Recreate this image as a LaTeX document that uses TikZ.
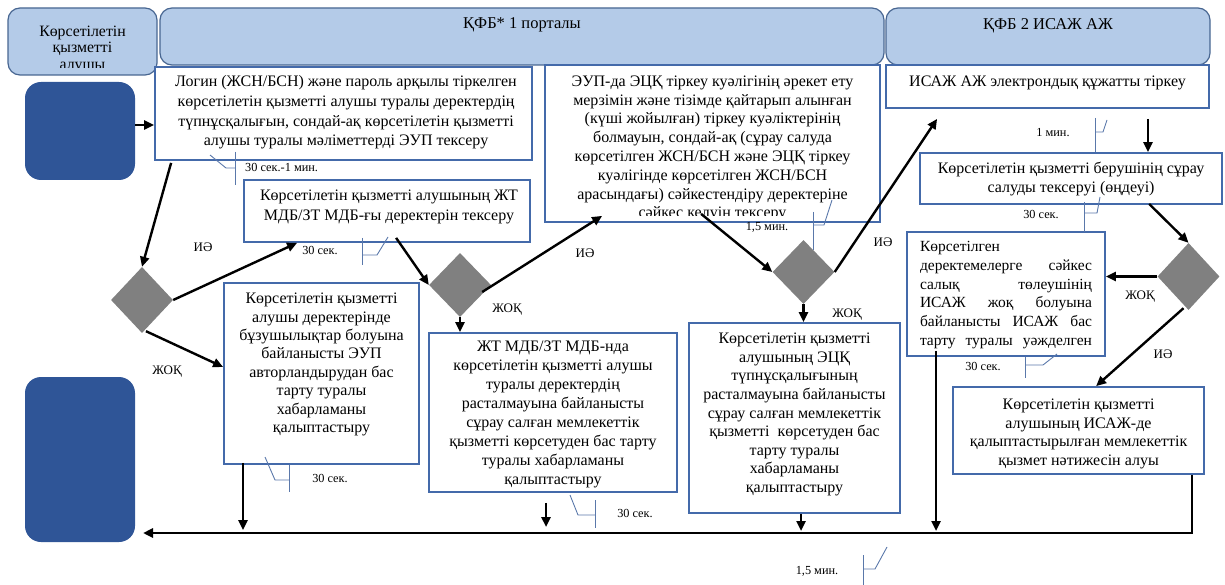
\documentclass[tikz,border=0pt]{standalone}
\usepackage{fontspec}
\setmainfont{Liberation Serif}
\usetikzlibrary{arrows.meta,shapes.geometric,calc}
\definecolor{boxc}{RGB}{68,106,170}
\definecolor{hdrfill}{RGB}{180,203,232}
\definecolor{hdrdraw}{RGB}{72,102,145}
\definecolor{sqfill}{RGB}{47,85,151}
\definecolor{dia}{RGB}{128,128,128}
\definecolor{clc}{RGB}{90,120,170}
\tikzset{
  hdr/.style={draw=hdrdraw,fill=hdrfill,rounded corners=12pt,line width=1.2pt,inner sep=0pt},
  sq/.style={fill=sqfill,rounded corners=16pt,inner sep=0pt},
  box/.style={draw=boxc,fill=white,line width=1.8pt,inner sep=0pt},
  txt/.style={align=center,inner sep=0pt,font=\fontsize{16}{19}\selectfont},
  dmd/.style={diamond,fill=dia,inner sep=0pt,minimum width=62pt},
  arr/.style={line width=2.4pt,-{Triangle[length=10pt,width=9pt]}},
  cl/.style={draw=clc,line width=0.9pt},
  cltxt/.style={inner sep=0pt,font=\fontsize{12.3}{14}\selectfont},
  lab/.style={inner sep=1pt,font=\fontsize{13}{15}\selectfont}
}
\begin{document}
\begin{tikzpicture}[x=1pt,y=1pt]
\useasboundingbox (0,0) rectangle (1225,-585);
% headers
\node[hdr,minimum width=149pt,minimum height=67pt] (hL) at (82.5,-41.5) {};
\node[hdr,minimum width=724pt,minimum height=57pt] (hM) at (522,-36.5) {};
\node[hdr,minimum width=324pt,minimum height=57pt] (hR) at (1048,-36.5) {};
\begin{scope}
\clip (8,-8) rectangle (157,-68);
\node[txt,font=\fontsize{15.8}{16.5}\selectfont] (thL) at (82.5,-49) {Көрсетілетін\\қызметті\\алушы};
\end{scope}
\node[txt,font=\fontsize{16.5}{19}\selectfont] (thM) at (522,-25) {ҚФБ* 1 порталы};
\node[txt,font=\fontsize{16.5}{19}\selectfont] (thR) at (1048,-26) {ҚФБ 2 ИСАЖ АЖ};
% dark squares
\node[sq,minimum width=110pt,minimum height=98pt] (sq1) at (80,-131) {};
\node[sq,minimum width=110pt,minimum height=165pt] (sq2) at (80,-459.5) {};
% boxes
\node[box,minimum width=377pt,minimum height=93pt] (login) at (343.5,-113.5) {};
\node[txt,font=\fontsize{16}{19.7}\selectfont] (tlogin) at (346,-112.5) {Логин (ЖСН/БСН) және пароль арқылы тіркелген\\көрсетілетін қызметті алушы туралы деректердің\\түпнұсқалығын, сондай-ақ көрсетілетін қызметті\\алушы туралы мәліметтерді ЭУП тексеру};
\node[box,minimum width=286pt,minimum height=62pt] (chk) at (387,-211) {};
\node[txt,font=\fontsize{16}{20}\selectfont] (tchk) at (389,-207) {Көрсетілетін қызметті алушының ЖТ\\МДБ/ЗТ МДБ-ғы деректерін тексеру};
\node[box,minimum width=335pt,minimum height=157pt] (eup) at (712.5,-143.5) {};
\begin{scope}
\clip (546,-66) rectangle (879,-216);
\node[txt,font=\fontsize{16}{18.8}\selectfont] (teup) at (712.5,-148.5) {ЭУП-да ЭЦҚ тіркеу куәлігінің әрекет ету\\мерзімін және тізімде қайтарып алынған\\(күші жойылған) тіркеу куәліктерінің\\болмауын, сондай-ақ (сұрау салуда\\көрсетілген ЖСН/БСН және ЭЦҚ тіркеу\\куәлігінде көрсетілген ЖСН/БСН\\арасындағы) сәйкестендіру деректеріне\\сәйкес келуін тексеру};
\end{scope}
\node[box,minimum width=323pt,minimum height=43pt] (isaj) at (1047.5,-86.5) {};
\node[txt] (tisaj) at (1047.5,-83) {ИСАЖ АЖ электрондық құжатты тіркеу};
\node[box,minimum width=302pt,minimum height=51pt] (prov) at (1071,-178.5) {};
\node[txt,font=\fontsize{16}{18.5}\selectfont] (tprov) at (1071,-179) {Көрсетілетін қызметті берушінің сұрау\\салуды тексеруі (өңдеуі)};
\node[box,minimum width=198pt,minimum height=124pt] (rsix) at (1006,-294) {};
\node[txt,align=left,font=\fontsize{15.5}{18.8}\selectfont] (tsix) at (1006,-295) {\hbox to 172pt{Көрсетілген\hfill}\\\hbox to 172pt{деректемелерге\hfill сәйкес}\\\hbox to 172pt{салық\hfill төлеушінің}\\\hbox to 172pt{ИСАЖ\hfill жоқ\hfill болуына}\\\hbox to 172pt{байланысты\hfill ИСАЖ\hfill бас}\\\hbox to 172pt{тарту\hfill туралы\hfill уәжделген}};
\node[box,minimum width=195pt,minimum height=181pt] (rsev) at (321.5,-373.5) {};
\node[txt,font=\fontsize{16}{18.4}\selectfont] (tsev) at (321.5,-364.5) {Көрсетілетін қызметті\\алушы деректерінде\\бұзушылықтар болуына\\байланысты ЭУП\\авторландырудан бас\\тарту туралы\\хабарламаны\\қалыптастыру};
\node[box,minimum width=248pt,minimum height=159pt] (reig) at (553,-412.5) {};
\node[txt,font=\fontsize{16}{19}\selectfont] (teig) at (553,-414.5) {ЖТ МДБ/ЗТ МДБ-нда\\көрсетілетін қызметті алушы\\туралы деректердің\\расталмауына байланысты\\сұрау салған мемлекеттік\\қызметті көрсетуден бас тарту\\туралы хабарламаны\\қалыптастыру};
\node[box,minimum width=211pt,minimum height=190pt] (rnin) at (794.5,-418) {};
\node[txt,font=\fontsize{16}{18.6}\selectfont] (tnin) at (794.5,-414.5) {Көрсетілетін қызметті\\алушының ЭЦҚ\\түпнұсқалығының\\расталмауына байланысты\\сұрау салған мемлекеттік\\қызметті\ \ көрсетуден бас\\тарту туралы\\хабарламаны\\қалыптастыру};
\node[box,minimum width=251pt,minimum height=87pt] (rten) at (1078.5,-430.5) {};
\node[txt,font=\fontsize{16}{18.7}\selectfont] (tten) at (1078.5,-434) {Көрсетілетін қызметті\\алушының ИСАЖ-де\\қалыптастырылған мемлекеттік\\қызмет нәтижесін алуы};
% diamonds
\node[dmd,minimum height=66pt] (d1) at (142,-300) {};
\node[dmd,minimum height=64pt] (d2) at (460,-285) {};
\node[dmd,minimum height=64pt] (d3) at (803.5,-272) {};
\node[dmd,minimum height=67pt] (d4) at (1188.5,-276.5) {};
% connectors
\draw[arr] (sq1.east |- 0,-125) -- (login.west |- 0,-125);
\draw[arr] ($(login.south west)+(17,-2)$) -- (d1.north);
\draw[arr] (d1.east) -- ($(chk.south west)+(54,0)$);
\node[lab] (l1) at (203,-247) {ИӘ};
\draw[arr] ($(d1.south)+(4,2)$) -- (rsev.west |- 0,-367);
\node[lab] (l2) at (167,-372) {ЖОҚ};
\draw[arr] ($(chk.south west)+(153,5)$) -- (d2.west);
\draw[arr] ($(d2.east)+(-9,-7)$) -- ($(eup.south west)+(58,7)$);
\node[lab] (l3) at (585,-253) {ИӘ};
\draw[arr] (d2.south) -- (d2.south |- reig.north);
\node[lab] (l4) at (507,-310) {ЖОҚ};
\draw[arr] ($(eup.south west)+(157,9)$) -- (d3.west);
\draw[arr] (d3.east) -- ($(isaj.south west)+(52,-10)$);
\node[lab] (l5) at (883,-242) {ИӘ};
\draw[arr] (d3.south) -- (d3.south |- rnin.north);
\node[lab,fill=white,inner xsep=4pt] (l6) at (847,-315) {ЖОҚ};
\draw[arr] ($(isaj.south -| 1148,0)+(0,-10)$) -- (prov.north -| 1148,0);
\draw[arr] ($(prov.south west)+(230,1)$) -- (d4.north);
\draw[arr] (d4.west) -- (rsix.east |- d4.west);
\node[lab] (l7) at (1140,-297) {ЖОҚ};
\draw[arr] ($(d4.south)+(-5,2)$) -- ($(rten.north west)+(144,0)$);
\node[lab] (l8) at (1163,-354) {ИӘ};
% bus
\coordinate (bus) at (143,-533);
\draw[line width=2.8pt,-{Triangle[length=10pt,width=9pt]}] (rten.south -| 1192,0) -- (1192,-533) -- (bus);
\draw[arr] ($(rsev.south -| 243,0)+(0,2)$) -- (243,-530);
\draw[arr] ($(reig.south -| 546,0)+(0,-10)$) -- (546,-527);
\draw[arr] (rnin.south -| 801,0) -- (801,-531);
\draw[arr] ($(rsix.south -| 936,0)+(0,6)$) -- (936,-531);
% callouts
\draw[cl] (210,-155) -- (226,-168) -- (235,-168); \draw[cl] (235,-152) -- (235,-185);
\node[cltxt,anchor=west] (k1) at (245,-167) {30 сек.-1 мин.};
\draw[cl] (388,-237) -- (377,-255) -- (362,-255); \draw[cl] (362,-238) -- (362,-265);
\node[cltxt] (k2) at (320,-250) {30 сек.};
\draw[cl] (832,-200) -- (824,-225) -- (813,-225); \draw[cl] (813,-212) -- (813,-250);
\node[cltxt] (k3) at (767,-227) {1,5 мин.};
\draw[cl] (1107,-120) -- (1103,-132) -- (1095,-132); \draw[cl] (1095,-118) -- (1095,-152);
\node[cltxt] (k4) at (1053,-133) {1 мин.};
\draw[cl] (1100,-197) -- (1097,-213) -- (1084,-213); \draw[cl] (1084,-202) -- (1084,-232);
\node[cltxt] (k5) at (1041,-214) {30 сек.};
\draw[cl] (1057,-354) -- (1043,-365) -- (1025,-365); \draw[cl] (1025,-357) -- (1025,-378);
\node[cltxt] (k6) at (983,-366) {30 сек.};
\draw[cl] (265,-457) -- (275,-480) -- (289,-480); \draw[cl] (289,-465) -- (289,-492);
\node[cltxt] (k7) at (330,-478) {30 сек.};
\draw[cl] (570,-495) -- (578,-515) -- (595,-515); \draw[cl] (595,-500) -- (595,-528);
\node[cltxt] (k8) at (635,-513) {30 сек.};
\draw[cl] (887,-547) -- (875,-569) -- (863,-569); \draw[cl] (863,-555) -- (863,-585);
\node[cltxt] (k9) at (817,-571) {1,5 мин.};
\end{tikzpicture}
\end{document}
